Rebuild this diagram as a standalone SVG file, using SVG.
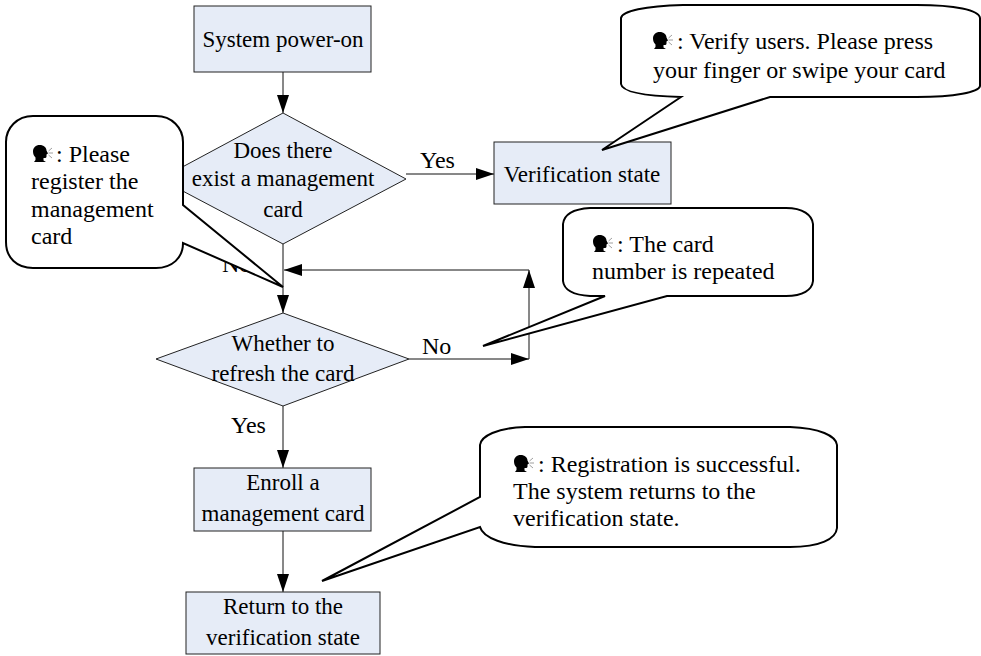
<svg xmlns="http://www.w3.org/2000/svg" width="981" height="656" viewBox="0 0 981 656">
<style>
text{font-family:"Liberation Serif","Times New Roman",serif;font-size:23px;fill:#000}
.c{text-anchor:middle}
.t{font-size:24px}
.n{fill:#e6ecf7;stroke:#222;stroke-width:1}
.b{fill:#fff;stroke:#000;stroke-width:2;stroke-linejoin:miter}
.l{fill:none;stroke:#111;stroke-width:1}
</style>
<defs>
<marker id="a" markerUnits="userSpaceOnUse" markerWidth="18" markerHeight="12" refX="18" refY="6" orient="auto"><path d="M0 0L18 6L0 12Z" fill="#000"/></marker>
<symbol id="h" viewBox="0 0 22 17" overflow="visible"><path d="M0 6.500C0 2.500 3 0 6.500 0C11 0 13.500 2.500 13.500 5.500L15 8.500L13.500 9.500V11.500C13.500 13 12 13.300 10.500 13V15.500L13 17H1L2.500 15V12.500C1 11 0 9 0 6.500Z" fill="#000"/><path d="M15.500 6L19 3M15.500 8H20M15.500 10L19 13" stroke="#777" stroke-width=".7" fill="none"/></symbol>
</defs>
<g id="connectors">
<path class="l" d="M283 72V113" marker-end="url(#a)"/>
<path class="l" d="M406 174H494" marker-end="url(#a)"/>
<path class="l" d="M283 244V313" marker-end="url(#a)"/>
<path class="l" d="M529 359V270" marker-end="url(#a)"/>
<path class="l" d="M529 270H284" marker-end="url(#a)"/>
<path class="l" d="M409 359H529" marker-end="url(#a)"/>
<path class="l" d="M283 406V468" marker-end="url(#a)"/>
<path class="l" d="M283 531V592" marker-end="url(#a)"/>
</g>
<g id="n1"><rect class="n" x="194" y="6" width="177" height="66"/><text class="c" x="283" y="47">System power-on</text></g>
<g id="d1"><path class="n" d="M283 113L406 179L283 244L160 179Z"/><text class="c" x="283" y="158">Does there</text><text class="c" x="283" y="186">exist a management</text><text class="c" x="283" y="217">card</text></g>
<g id="n2"><rect class="n" x="494" y="142" width="177" height="62"/><text class="c" x="582" y="182">Verification state</text></g>
<g id="d2"><path class="n" d="M283 313L409 359L283 406L156 359Z"/><text class="c" x="283" y="351">Whether to</text><text class="c" x="283" y="381">refresh the card</text></g>
<g id="n3"><rect class="n" x="194" y="468" width="177" height="63"/><text class="c" x="283" y="490">Enroll a</text><text class="c" x="283" y="521">management card</text></g>
<g id="n4"><rect class="n" x="186" y="592" width="194" height="62"/><text class="c" x="283" y="614">Return to the</text><text class="c" x="283" y="645">verification state</text></g>
<text class="t" x="420" y="168">Yes</text>
<text class="t" x="222" y="272">No</text>
<text class="t" x="422" y="354">No</text>
<text class="t" x="231" y="433">Yes</text>
<g id="b1"><path class="b" d="M683 5H917C955 5 979 10 980 18V86C979 92 955 97 917 97H770L602 150L681 97C645 96 622 92 621 84V18C622 11 645 6 683 5Z"/><use href="#h" x="653" y="32" width="22" height="17"/><text class="t" x="677" y="49">: Verify users. Please press</text><text class="t" x="653" y="78">your finger or swipe your card</text></g>
<g id="b2"><path class="b" d="M33 116H156C172 116 183 128 183 142V205L283 287L183 243C183 258 172 268 156 268H33C17 268 6 258 6 242V142C6 128 17 116 33 116Z"/><use href="#h" x="33" y="145" width="22" height="17"/><text class="t" x="56" y="162">: Please</text><text class="t" x="31" y="189">register the</text><text class="t" x="31" y="217">management</text><text class="t" x="31" y="244">card</text></g>
<g id="b3"><path class="b" d="M590 208H786C803 208 812 215 813 224V281C812 290 803 296 786 296H667L483 346L605 296H590C573 295 564 290 563 281V224C564 215 573 209 590 208Z"/><use href="#h" x="593" y="235" width="22" height="17"/><text class="t" x="617" y="252">: The card</text><text class="t" x="592" y="279">number is repeated</text></g>
<g id="b4"><path class="b" d="M525 427H790C820 428 836 436 837 445V528C836 539 820 547 790 547H535C505 546 483 538 480 527L322 581L480 497V445C481 436 497 428 525 427Z"/><use href="#h" x="514" y="455" width="22" height="17"/><text class="t" x="538" y="472">: Registration is successful.</text><text class="t" x="513" y="499">The system returns to the</text><text class="t" x="513" y="526">verification state.</text></g>
</svg>
